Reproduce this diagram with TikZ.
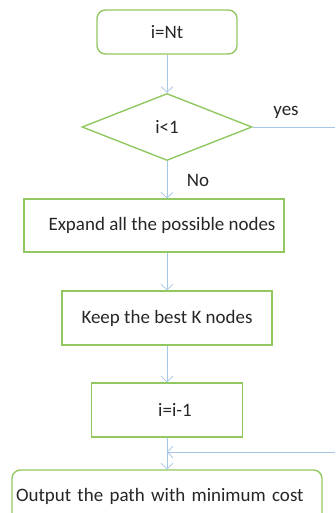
\documentclass[tikz,border=0pt]{standalone}
\usepackage{fontspec}
\setmainfont{Carlito}
\usetikzlibrary{arrows.meta, shapes.geometric}
\definecolor{boxcol}{RGB}{146, 200, 96}
\definecolor{wirecol}{RGB}{165, 198, 230}
\definecolor{textcol}{RGB}{38, 38, 38}

\begin{document}
\begin{tikzpicture}[
    font=\fontsize{13.5}{16}\selectfont,
    text=textcol,
    flow/.style={-{Straight Barb[length=1.4mm, width=3mm]}, draw=wirecol, line width=0.5pt},
    wire/.style={draw=wirecol, line width=0.5pt},
    box/.style={draw=boxcol, line width=1pt, align=center, inner sep=0pt},
    stepbox/.style={box, rectangle},
    termbox/.style={box, rectangle, rounded corners=6pt},
    testbox/.style={box, diamond, aspect=2.54, minimum width=4.25cm, minimum height=1.675cm}
]
\useasboundingbox (0,0) rectangle (8.375,-12.825);

% Nodes of the flow chart
\node[termbox, minimum width=3.5cm, minimum height=1.1cm] (start) at (4.175,-0.8) {i=Nt};
\node[testbox] (test) at (4.175,-3.175) {i\textless1};
\node[stepbox, minimum width=6.5cm, minimum height=1.325cm] (expand) at (3.85,-5.64) {\hspace{0.4cm}Expand all the possible nodes};
\node[stepbox, minimum width=5.25cm, minimum height=1.35cm] (keep) at (4.175,-7.95) {Keep the best K nodes};
\node[stepbox, minimum width=3.775cm, minimum height=1.35cm] (decr) at (4.175,-10.25) {\hspace{0.4cm}i=i-1};
\node[termbox, minimum width=7.75cm, minimum height=1.3cm, text width=7.55cm, align=left] (output) at (4.175,-12.4) {Output the path with minimum cost};

% Loop stubs at the right edge
\coordinate (yesend) at (8.375,-3.175);
\coordinate (backin) at (8.375,-11.3);

% Main vertical flow
\draw[flow] (start) -- (test);
\draw[flow] (test.south) -- (test.south |- expand.north);
\draw[flow] (test.south |- expand.south) -- (keep.north);
\draw[flow] (keep) -- (decr);
\draw[flow] (decr) -- (output);

% Exit branch and return
\draw[wire] (test.east) -- (yesend);
\draw[flow] (backin) -- (backin -| decr.south);

% Branch labels
\node (yeslbl) at (7.15,-2.8) {yes};
\node (nolbl) at (4.95,-4.5) {No};

\end{tikzpicture}
\end{document}
